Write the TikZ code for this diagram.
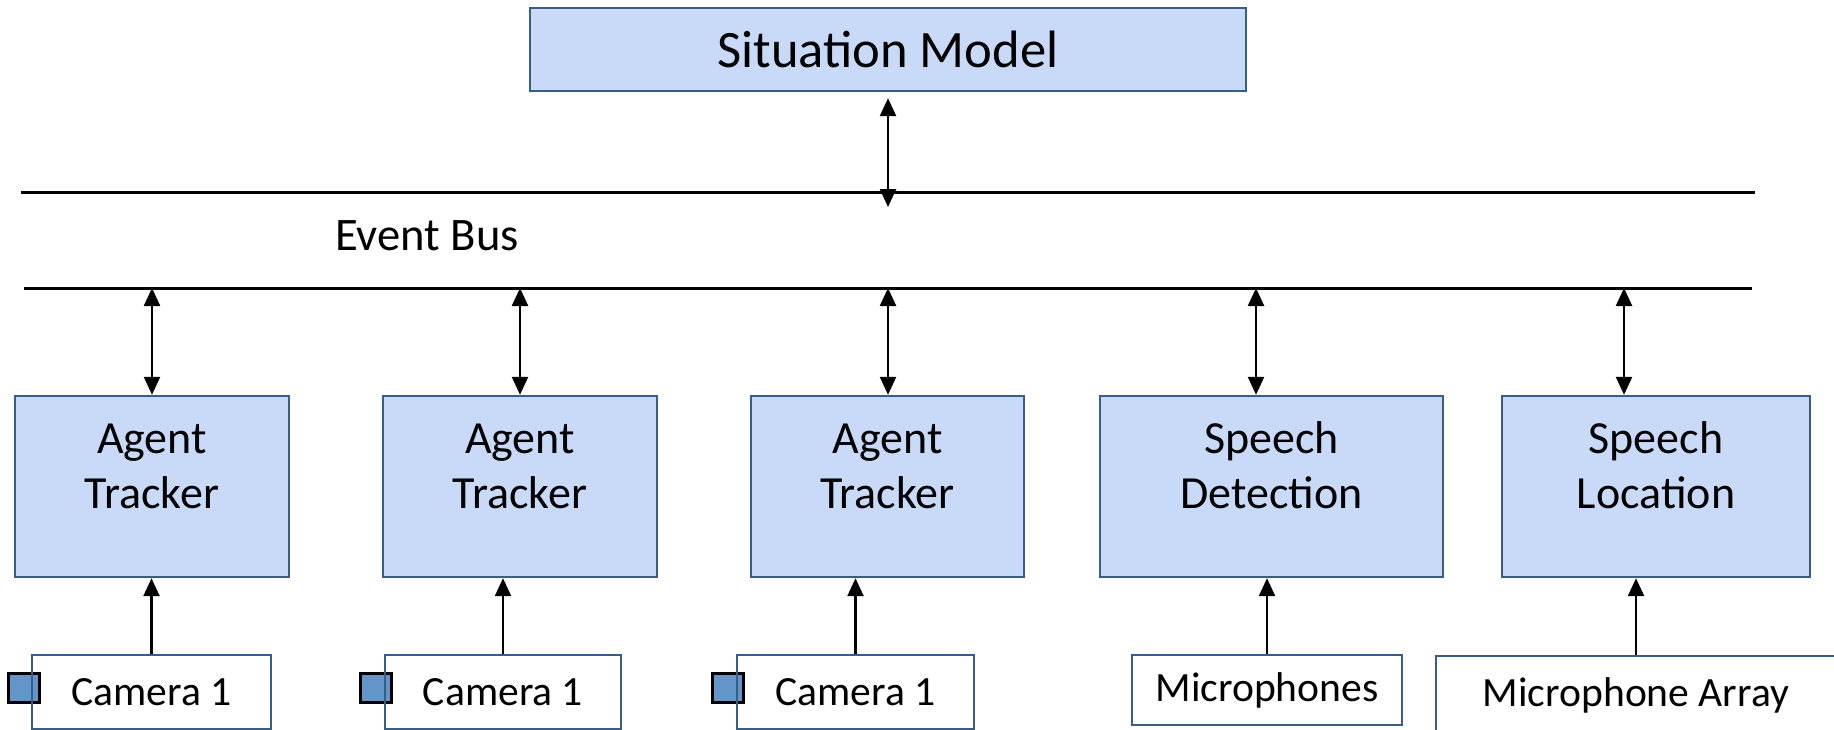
\documentclass[tikz,border=0pt]{standalone}
\usepackage{fontspec}
\setmainfont{Carlito}
\usetikzlibrary{arrows.meta}
\definecolor{boxfill}{RGB}{201,218,248}
\definecolor{boxline}{RGB}{56,93,138}
\definecolor{camfill}{RGB}{99,149,200}

\begin{document}
\begin{tikzpicture}
        [x=0.5pt, y=-0.5pt,
        module/.style={draw=boxline, fill=boxfill, line width=1.2pt, minimum height=90.5pt, inner sep=0pt},
        boxtext/.style={align=center, anchor=base, font=\fontsize{23}{27.5}\selectfont},
        sensor/.style={draw=boxline, line width=1.2pt, inner sep=0pt, font=\fontsize{20.8}{25}\selectfont},
        camsquare/.style={draw=black, fill=camfill, line width=1.5pt, minimum width=15.5pt, minimum height=14.5pt, inner sep=0pt},
        bus/.style={line width=1.5pt, black},
        link/.style={line width=1.25pt, {Triangle[length=9pt,width=8pt]}-{Triangle[length=9pt,width=8pt]}},
        feed/.style={line width=1.25pt, -{Triangle[length=9pt,width=8pt]}}]

        \clip (0,0) rectangle (1834,729);

        % top module
        \node[module, minimum width=358pt, minimum height=41.5pt, font=\fontsize{26.3}{32}\selectfont] (sm) at (888,49.5) {Situation Model};

        % event bus
        \coordinate (tl) at (21,192);
        \coordinate (tr) at (1755,192);
        \coordinate (bl) at (24,288);
        \coordinate (br) at (1752,288);
        \draw[bus] (tl) -- (tr);
        \draw[bus] (bl) -- (br);
        \node[anchor=base, font=\fontsize{23.3}{28}\selectfont] (busname) at (427,250) {Event Bus};

        % processing modules
        \node[module, minimum width=137pt] (track1) at (152,486.5) {};
        \node[module, minimum width=137pt] (track2) at (520,486.5) {};
        \node[module, minimum width=136.5pt] (track3) at (887.5,486.5) {};
        \node[module, minimum width=171.5pt] (detect) at (1271.5,486.5) {};
        \node[module, minimum width=154pt] (locate) at (1656,486.5) {};

        \node[boxtext] (track1txt) at (152,508) {Agent\\Tracker};
        \node[boxtext] (track2txt) at (520,508) {Agent\\Tracker};
        \node[boxtext] (track3txt) at (887.5,508) {Agent\\Tracker};
        \node[boxtext] (detecttxt) at (1271.5,508) {Speech\\Detection};
        \node[boxtext] (locatetxt) at (1656,508) {Speech\\Location};

        % sensors
        \node[camsquare] (sq1) at (24,688) {};
        \node[camsquare] (sq2) at (376,688) {};
        \node[camsquare] (sq3) at (728,688) {};
        \node[sensor, minimum width=119.5pt, minimum height=37pt] (cam1) at (151.5,692) {Camera 1};
        \node[sensor, minimum width=118pt, minimum height=37pt] (cam2) at (503,692) {Camera 1};
        \node[sensor, minimum width=118.5pt, minimum height=37pt] (cam3) at (855.5,692) {Camera 1};
        \node[sensor, fill=white, minimum width=135pt, minimum height=35pt] (mics) at (1267,690) {Microphones};
        \node[sensor, fill=white, minimum width=200pt, minimum height=39pt] (array) at (1636,695) {Microphone Array};

        % situation model <-> bus
        \coordinate (smtip) at (888,207);
        \draw[link] ([yshift=-3pt]sm.south) -- (smtip);

        % bus <-> modules
        \coordinate (tap1) at (152,288);
        \coordinate (tap2) at (520,288);
        \coordinate (tap3) at (888,288);
        \coordinate (tap4) at (1256,288);
        \coordinate (tap5) at (1624,288);
        \draw[link] (tap1) -- (tap1 |- track1.north);
        \draw[link] (tap2) -- (tap2 |- track2.north);
        \draw[link] (tap3) -- (tap3 |- track3.north);
        \draw[link] (tap4) -- (tap4 |- detect.north);
        \draw[link] (tap5) -- (tap5 |- locate.north);

        % sensors -> modules
        \draw[feed] (cam1.north) -- (cam1.north |- track1.south);
        \draw[feed] (cam2.north) -- (cam2.north |- track2.south);
        \draw[feed] (cam3.north) -- (cam3.north |- track3.south);
        \draw[feed] (mics.north) -- (mics.north |- detect.south);
        \draw[feed] (array.north) -- (array.north |- locate.south);

\end{tikzpicture}
\end{document}
